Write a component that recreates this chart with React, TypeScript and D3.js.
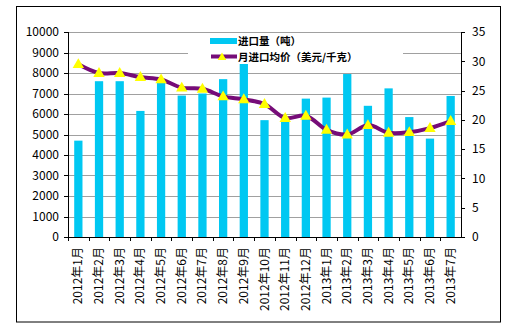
import React from "react";
import * as d3 from "d3";

const categories = [
  "2012年1月", "2012年2月", "2012年3月", "2012年4月", "2012年5月", "2012年6月",
  "2012年7月", "2012年8月", "2012年9月", "2012年10月", "2012年11月", "2012年12月",
  "2013年1月", "2013年2月", "2013年3月", "2013年4月", "2013年5月", "2013年6月", "2013年7月",
];
const volume = [4700, 7600, 7600, 6150, 7650, 6900, 7000, 7700, 8450, 5700, 5800, 6750, 6800, 7950, 6400, 7250, 5850, 4800, 6880];
const price = [29.5, 28.0, 28.0, 27.3, 26.9, 25.5, 25.3, 24.0, 23.5, 22.7, 20.3, 20.7, 18.3, 17.5, 19.1, 17.8, 17.9, 18.6, 19.8];
const leftTicks = [0, 1000, 2000, 3000, 4000, 5000, 6000, 7000, 8000, 9000, 10000];
const rightTicks = [0, 5, 10, 15, 20, 25, 30, 35];
const legendLabels = ["进口量（吨）", "月进口均价（美元/千克）"];

const W = 517, H = 332;
const plot = { left: 68, right: 461, top: 32, bottom: 237 };
const BAR_COLOR = "#00C8F2";
const LINE_COLOR = "#760C78";
const TRI_COLOR = "#FFFF00";
const FONT = "'Noto Sans CJK SC', 'DejaVu Sans', sans-serif";

export default function App() {
  const x = d3.scaleBand<string>().domain(categories).range([plot.left, plot.right]).paddingInner(0);
  const yL = d3.scaleLinear().domain([0, 10000]).range([plot.bottom, plot.top]);
  const yR = d3.scaleLinear().domain([0, 35]).range([plot.bottom, plot.top]);
  const bw = x.bandwidth();
  const barW = bw * 0.4;
  const cx = (c: string) => (x(c) as number) + bw / 2;

  const line = d3.line<number>()
    .x((_, i) => cx(categories[i]))
    .y((d) => yR(d))
    .curve(d3.curveCatmullRom.alpha(0.5));

  const tri = (px: number, py: number, s = 6) =>
    `M${px},${py - s} L${px + s * 0.95},${py + s * 0.65} L${px - s * 0.95},${py + s * 0.65} Z`;

  const legendBox = { x: 188, y: 34, w: 215, h: 30 };

  return (
    <svg width={W} height={H} style={{ position: "absolute", left: 0, top: 0, background: "#fff" }} fontFamily={FONT}>
      <rect x={16.5} y={6.5} width={484} height={315.5} fill="#fff" stroke="#000" strokeWidth={1} />
      {leftTicks.filter((t) => t > 0).map((t) => (
        <line key={"g" + t} x1={plot.left} x2={plot.right} y1={Math.round(yL(t)) + 0.5} y2={Math.round(yL(t)) + 0.5} stroke="#A0A0A0" strokeWidth={1} />
      ))}
      {volume.map((v, i) => (
        <rect key={"b" + i} x={cx(categories[i]) - barW / 2} y={yL(v)} width={barW} height={plot.bottom - yL(v)} fill={BAR_COLOR} />
      ))}
      <line x1={plot.left + 0.5} x2={plot.left + 0.5} y1={plot.top} y2={plot.bottom} stroke="#000" />
      <line x1={plot.right + 0.5} x2={plot.right + 0.5} y1={plot.top} y2={plot.bottom} stroke="#000" />
      <line x1={plot.left} x2={plot.right + 1} y1={plot.bottom + 0.5} y2={plot.bottom + 0.5} stroke="#000" />
      {leftTicks.map((t) => (
        <g key={"lt" + t}>
          <line x1={plot.left - 4} x2={plot.left} y1={Math.round(yL(t)) + 0.5} y2={Math.round(yL(t)) + 0.5} stroke="#000" />
          <text x={59} y={yL(t)} dy="0.36em" textAnchor="end" fontSize={12} fill="#000">{t}</text>
        </g>
      ))}
      {rightTicks.map((t) => (
        <g key={"rt" + t}>
          <line x1={plot.right} x2={plot.right + 4} y1={Math.round(yR(t)) + 0.5} y2={Math.round(yR(t)) + 0.5} stroke="#000" />
          <text x={472} y={yR(t)} dy="0.36em" textAnchor="start" fontSize={12} fill="#000">{t}</text>
        </g>
      ))}
      {categories.map((c, i) => (
        <line key={"xt" + i} x1={Math.round((x(c) as number)) + 0.5} x2={Math.round((x(c) as number)) + 0.5} y1={plot.bottom} y2={plot.bottom + 4} stroke="#000" />
      ))}
      {categories.map((c) => (
        <text key={"xl" + c} transform={`translate(${cx(c) + 4},247) rotate(-90)`} textAnchor="end" fontSize={12} fill="#000">{c}</text>
      ))}
      <path d={line(price) || ""} fill="none" stroke={LINE_COLOR} strokeWidth={4} strokeLinejoin="round" />
      {price.map((p, i) => (
        <path key={"t" + i} d={tri(cx(categories[i]), yR(p))} fill={TRI_COLOR} />
      ))}
      <rect x={legendBox.x} y={legendBox.y} width={legendBox.w} height={legendBox.h} fill="#fff" />
      <rect x={210} y={38} width={27} height={6} fill={BAR_COLOR} />
      <text x={238} y={41} dy="0.35em" fontSize={10.5} fontWeight="bold" fill="#000">{legendLabels[0]}</text>
      <line x1={211} x2={237} y1={56.5} y2={56.5} stroke={LINE_COLOR} strokeWidth={4} />
      <path d={tri(222, 57, 4.5)} fill={TRI_COLOR} />
      <text x={238} y={57} dy="0.35em" fontSize={10.5} fontWeight="bold" fill="#000">{legendLabels[1]}</text>
    </svg>
  );
}
